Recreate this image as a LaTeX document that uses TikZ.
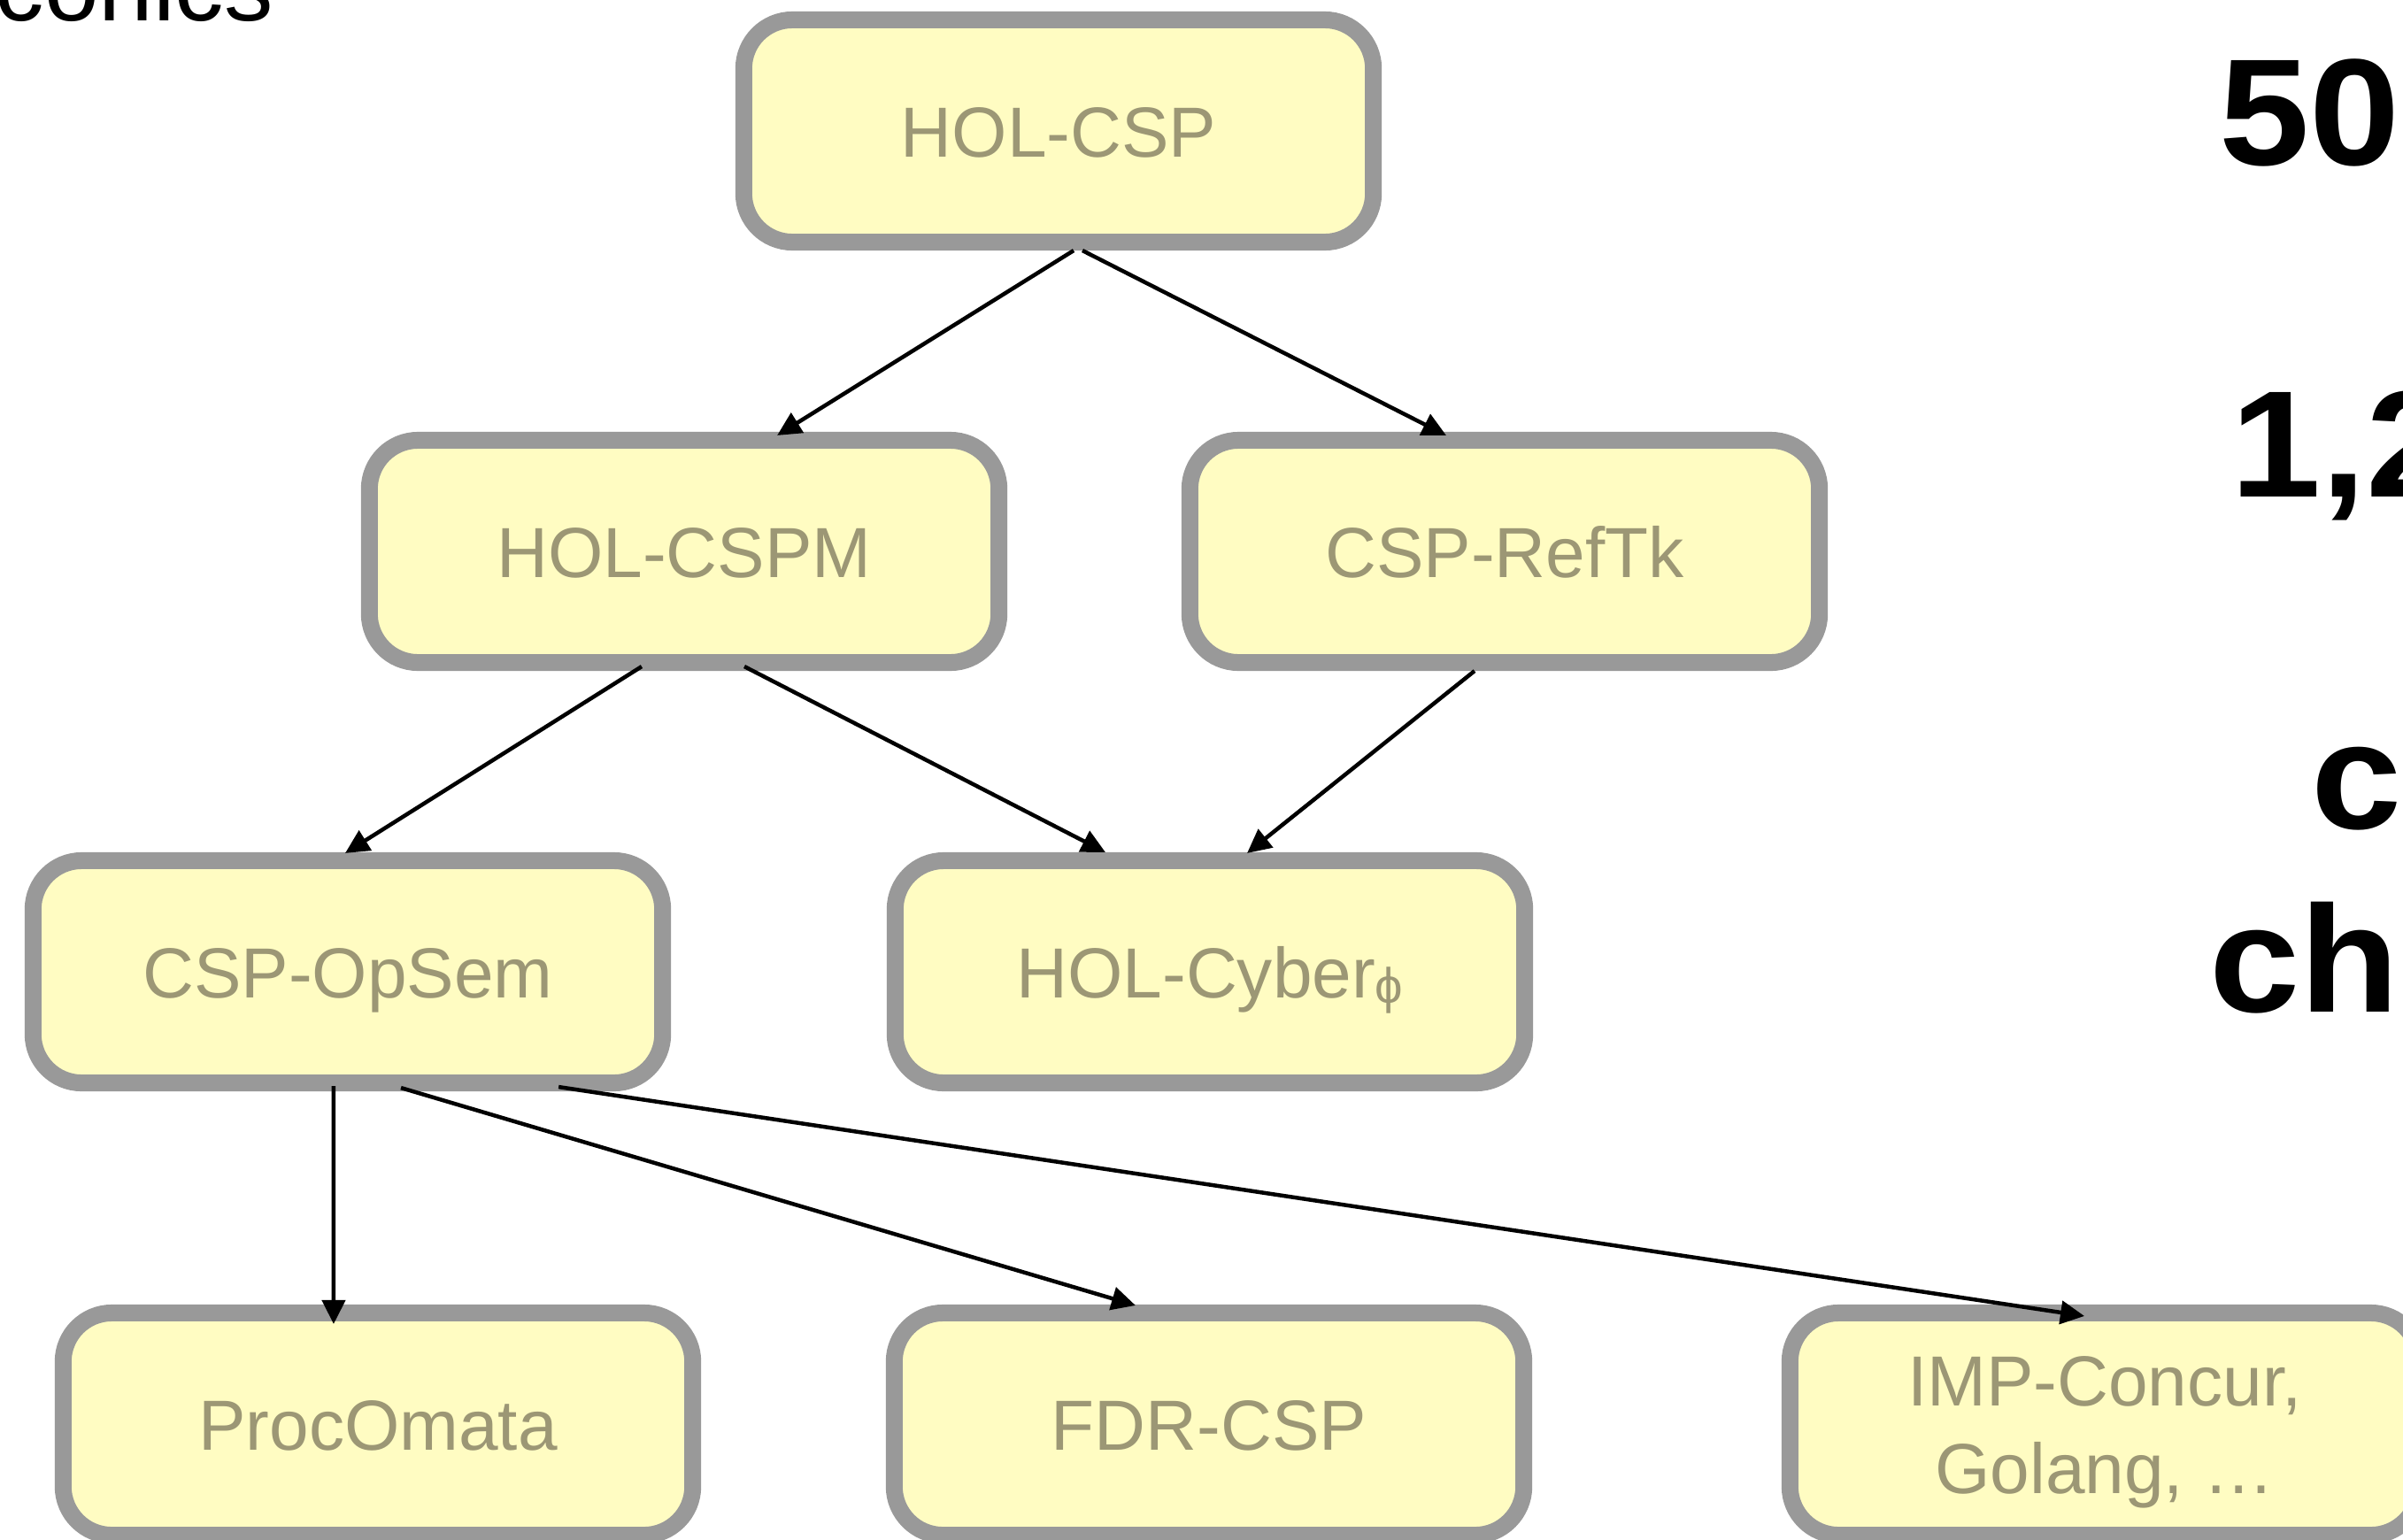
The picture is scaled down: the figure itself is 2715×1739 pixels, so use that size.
\documentclass[tikz,border=0pt]{standalone}
\usepackage{fontspec}
\setmainfont{Liberation Sans}
\newfontfamily\notefont[FakeStretch=1.07]{Liberation Sans Bold}
\usetikzlibrary{arrows.meta}

\definecolor{boxline}{HTML}{999999}
\definecolor{boxfill}{HTML}{FFFCC2}
\definecolor{boxtext}{HTML}{9C9775}

\begin{document}
\begin{tikzpicture}[x=0.01cm,y=-0.01cm,
  theory/.style={draw=boxline, fill=boxfill, line width=0.19cm,
    rounded corners=0.55cm, minimum width=7.11cm, minimum height=2.51cm,
    inner sep=0pt, outer sep=0.095cm, text=boxtext,
    font=\fontsize{22.8pt}{27.9pt}\selectfont,
    text height=0.58cm, text depth=0pt},
  dep/.style={-{Triangle[length=0.27cm,width=0.26cm]}, line width=0.045cm, black},
  big/.style={font=\notefont\fontsize{48.8pt}{58pt}\selectfont,
    anchor=base west, inner sep=0pt}]
\useasboundingbox (0,0) rectangle (2715,1739);
\begin{scope}
\clip (0,0) rectangle (2715,1739);

% heading fragment and side notes
\node[anchor=base west, inner sep=0pt, font=\fontsize{31.5pt}{33pt}\selectfont] (hdr) at (-6,23) {conics};
\node[big] (n50) at (2507,186) {50};
\node[big] (n12) at (2520,561) {1,2};
\node[big] (nc)  at (2611,936) {c};
\node[big] (nch) at (2496,1143) {che};

% theories
\node[theory] (hcsp)   at (1196,148)  {HOL-CSP};
\node[theory] (hcspm)  at (773,623)   {HOL-CSPM};
\node[theory] (reftk)  at (1700,623)  {CSP-RefTk};
\node[theory] (opsem)  at (393,1098)  {CSP-OpSem};
\node[theory] (cyber)  at (1367,1098) {HOL-Cyber\raisebox{-0.06cm}{\fontsize{16pt}{16pt}\selectfont ϕ}};
\node[theory] (procom) at (427,1609)  {ProcOmata};
\node[theory] (fdr)    at (1366,1609) {FDR-CSP};
\node[theory, text height=1.56cm] (imp) at (2378,1609)
  {\begin{tabular}[b]{@{}c@{}}IMP-Concur,\\Golang, …\end{tabular}};

% dependencies
\draw[dep] ([xshift=0.17cm]hcsp.south) -- ([xshift=1.05cm,yshift=-0.04cm]hcspm.north);
\draw[dep] ([xshift=0.27cm]hcsp.south) -- ([xshift=-0.66cm,yshift=-0.04cm]reftk.north);
\draw[dep] ([xshift=-0.48cm,yshift=0.05cm]hcspm.south) -- ([xshift=-0.03cm,yshift=-0.01cm]opsem.north);
\draw[dep] ([xshift=0.68cm,yshift=0.05cm]hcspm.south) -- ([xshift=-1.18cm]cyber.north);
\draw[dep] ([xshift=-0.34cm]reftk.south) -- ([xshift=0.42cm,yshift=-0.01cm]cyber.north);
\draw[dep] ([xshift=-0.16cm,yshift=0.06cm]opsem.south) -- ([xshift=-0.50cm,yshift=-0.22cm]procom.north);
\draw[dep] ([xshift=0.60cm,yshift=0.04cm]opsem.south) -- ([xshift=-0.83cm,yshift=-0.01cm]fdr.north);
\draw[dep] ([xshift=2.38cm,yshift=0.05cm]opsem.south) -- ([xshift=-0.23cm,yshift=-0.13cm]imp.north);
\end{scope}
\end{tikzpicture}
\end{document}
